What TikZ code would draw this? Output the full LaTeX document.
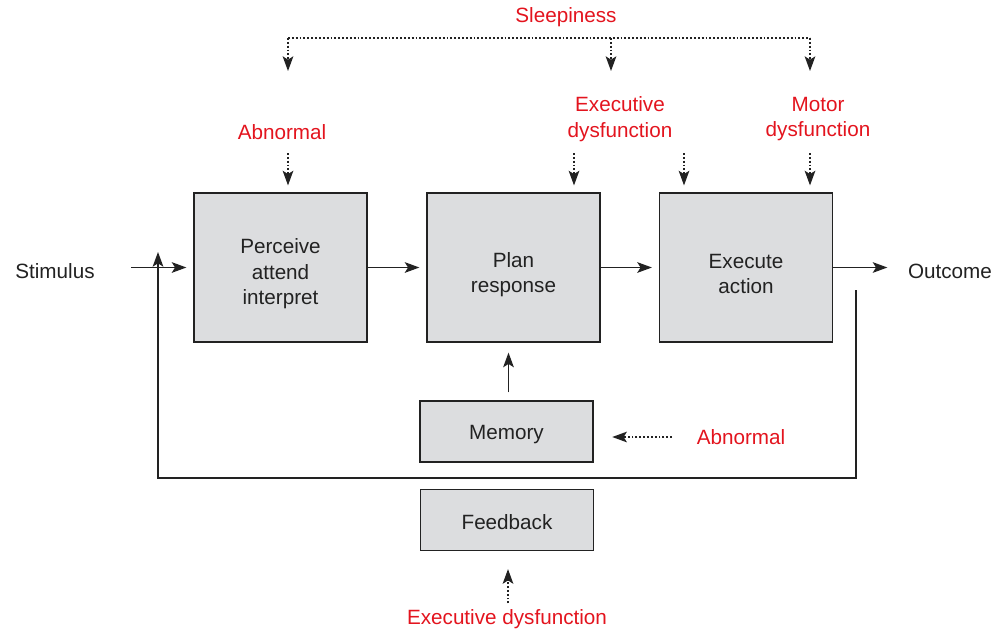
\documentclass[tikz,border=0pt]{standalone}
\usepackage{fontspec}
\setmainfont{Liberation Sans}
\usetikzlibrary{arrows.meta}
\definecolor{lab}{HTML}{E3141E}
\definecolor{boxfill}{HTML}{DCDDDF}
\definecolor{ink}{HTML}{222222}
\begin{document}
\begin{tikzpicture}[x=0.75pt,y=-0.75pt,
  font=\fontsize{15.5}{19}\selectfont,
  box/.style={draw=ink, fill=boxfill, line width=0.9pt, minimum width=129.75pt,
    minimum height=111.75pt, align=center, inner sep=0pt, text=ink},
  smallbox/.style={box, minimum height=45.75pt},
  lbl/.style={text=lab, align=center},
  plain/.style={text=ink},
  arr/.style={-{Stealth[length=11pt,width=8pt,inset=2.5pt]}, line width=0.9pt, draw=ink},
  darr/.style={arr, dash pattern=on 1.4pt off 1.5pt},
  dline/.style={line width=1pt, draw=ink, dash pattern=on 1.4pt off 1.5pt}]
\useasboundingbox (0,0) rectangle (1006,632);

% boxes
\node[box] (perc) at (280.5,267.5) {\rule{0pt}{20.5pt}Perceive\\attend\\interpret};
\node[box] (plan) at (513.5,267.5) {\rule{0pt}{22pt}Plan\\response};
\node[box] (exec) at (746,267.5) {\rule{0pt}{20.5pt}Execute\\action};
\node[smallbox] (mem) at (506.5,431.5) {\rule{0pt}{15pt}Memory};
\node[smallbox] (fb) at (507,520) {\rule{0pt}{14pt}Feedback};

% plain texts
\node[plain] (stim) at (55,271) {Stimulus};
\node[plain] (out) at (950,271) {Outcome};

% red labels
\node[lbl] (sleep) at (566,17) {Sleepiness};
\node[lbl] (abn1) at (282,132) {Abnormal};
\node[lbl] (exec1) at (620,119) {Executive\\dysfunction};
\node[lbl] (motor) at (818,119) {Motor\\dysfunction};
\node[lbl] (abn2) at (741,437) {Abnormal};
\node[lbl] (exec2) at (507,619) {Executive dysfunction};

% coordinates
\coordinate (s1) at (288,38);
\coordinate (s2) at (611,38);
\coordinate (s3) at (810,38);
\coordinate (s1e) at (288,71);
\coordinate (s2e) at (611,71);
\coordinate (s3e) at (810,71);
\coordinate (a1) at (288,153);
\coordinate (a2) at (574,153);
\coordinate (a3) at (684,153);
\coordinate (a4) at (810,153);
\coordinate (fbA) at (856,290);
\coordinate (fbB) at (856,478);
\coordinate (fbC) at (158,478);
\coordinate (fbD) at (158,252);

% sleepiness
\draw[dline] (s1) -- (s3);
\draw[darr] (s1) -- (s1e);
\draw[darr] (s2) -- (s2e);
\draw[darr] (s3) -- (s3e);

% label arrows to boxes
\draw[darr, shorten >=5.25pt] (a1) -- (a1 |- perc.north);
\draw[darr, shorten >=5.25pt] (a2) -- (a2 |- plan.north);
\draw[darr, shorten >=5.25pt] (a3) -- (a3 |- exec.north);
\draw[darr, shorten >=5.25pt] (a4) -- (a4 |- exec.north);

% main flow
\draw[arr, shorten <=24pt, shorten >=5.25pt] (stim.east |- perc.west) -- (perc.west);
\draw[arr, shorten >=5.25pt] (perc.east) -- (plan.west);
\draw[arr, shorten >=5.25pt] (plan.east) -- (exec.west);
\draw[arr, shorten >=12pt] (exec.east) -- (out.west |- exec.east);

% memory
\draw[arr, shorten <=6pt, shorten >=7.5pt] ([xshift=1.5pt]mem.north) -- ([xshift=1.5pt]mem.north |- plan.south);
\draw[darr, shorten <=15pt, shorten >=14pt] (abn2.west) -- (abn2.west -| mem.east);

% feedback
\draw[arr] (fbA) -- (fbB) -- (fbC) -- (fbD);
\draw[darr, shorten <=1pt, shorten >=13.5pt] ([xshift=0.75pt]exec2.north) -- ([xshift=0.75pt]exec2.north |- fb.south);
\end{tikzpicture}
\end{document}
